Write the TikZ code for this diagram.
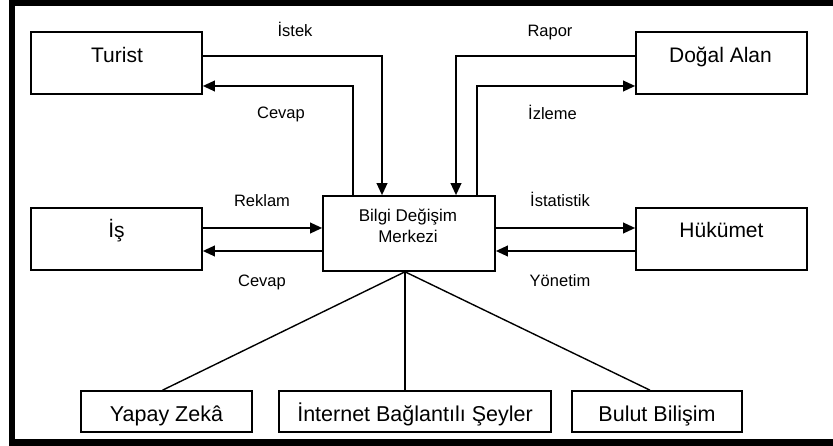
\documentclass[tikz,border=0pt]{standalone}
\usepackage{fontspec}
\setmainfont{Liberation Sans}
\usetikzlibrary{arrows.meta,calc}

\tikzset{
  box/.style={draw=black, line width=1.6pt, minimum width=171pt, minimum height=62pt, inner sep=0pt, fill=white},
  lowbox/.style={draw=black, line width=1.6pt, minimum height=41pt, inner sep=0pt, fill=white},
  boxtext/.style={anchor=base, inner sep=0pt, font=\fontsize{21}{25}\selectfont},
  lowtext/.style={anchor=base, inner sep=0pt, font=\fontsize{21.5}{25}\selectfont},
  hubtext/.style={anchor=base, inner sep=0pt, font=\fontsize{17}{20}\selectfont},
  flowlabel/.style={anchor=base, inner sep=0pt, font=\fontsize{16.5}{20}\selectfont},
  arr/.style={line width=2pt, -{Triangle[length=12pt,width=10.5pt]}},
  branch/.style={line width=1.4pt},
}

\begin{document}
\begin{tikzpicture}[x=1pt, y=-1pt]
  \useasboundingbox (0,0) rectangle (833,446);

  % outer frame (open on the right)
  \fill[black] (9,0) rectangle (833,6);
  \fill[black] (9,0) rectangle (15,446);
  \fill[black] (9,439) rectangle (833,446);

  % boxes
  \node[box] (turist) at (116.5,63) {};
  \node[box] (dogal) at (721.5,63) {};
  \node[box] (is) at (116.5,239) {};
  \node[box] (hukumet) at (721.5,239) {};
  \node[box, minimum width=172pt, minimum height=75pt] (merkez) at (409,233.5) {};
  \node[lowbox, minimum width=171pt] (yz) at (166.5,411.5) {};
  \node[lowbox, minimum width=272pt] (ibs) at (415,411.5) {};
  \node[lowbox, minimum width=170pt] (bb) at (657,411.5) {};

  % box texts
  \node[boxtext] (tTurist) at ($(turist.north)+(0.5,31)$) {Turist};
  \node[boxtext] (tDogal) at ($(dogal.north)+(-1,31)$) {Doğal Alan};
  \node[boxtext] (tIs) at ($(is.north)+(0,30)$) {İş};
  \node[boxtext] (tHukumet) at ($(hukumet.north)+(0,30)$) {Hükümet};
  \node[hubtext] (tMerkez1) at ($(merkez.north)+(-1,26)$) {Bilgi Değişim};
  \node[hubtext] (tMerkez2) at ($(merkez.north)+(-1,47)$) {Merkezi};
  \node[lowtext] (tYz) at ($(yz.north)+(0,31)$) {Yapay Zekâ};
  \node[lowtext] (tIbs) at ($(ibs.north)+(0,31)$) {İnternet Bağlantılı Şeyler};
  \node[lowtext] (tBb) at ($(bb.north)+(0,31)$) {Bulut Bilişim};

  % columns of the vertical connectors
  \coordinate (colCevap) at (353,0);
  \coordinate (colIstek) at (382,0);
  \coordinate (colRapor) at (456,0);
  \coordinate (colIzleme) at (477,0);

  % Turist <-> centre
  \draw[arr] ($(turist.east)+(0,-7)$) -| (merkez.north -| colIstek);
  \draw[arr] (merkez.north -| colCevap) |- ($(turist.east)+(0,23)$);

  % Doğal Alan <-> centre
  \draw[arr] ($(dogal.west)+(0,-7)$) -| (merkez.north -| colRapor);
  \draw[arr] (merkez.north -| colIzleme) |- ($(dogal.west)+(0,23)$);

  % İş <-> centre
  \coordinate (rowReklam) at ($(is.east)+(0,-11)$);
  \coordinate (rowCevap) at ($(is.east)+(0,12)$);
  \draw[arr] (rowReklam) -- (rowReklam -| merkez.west);
  \draw[arr] (rowCevap -| merkez.west) -- (rowCevap);

  % Hükümet <-> centre
  \coordinate (rowIstat) at ($(hukumet.west)+(0,-11)$);
  \coordinate (rowYonetim) at ($(hukumet.west)+(0,12)$);
  \draw[arr] (rowIstat -| merkez.east) -- (rowIstat);
  \draw[arr] (rowYonetim) -- (rowYonetim -| merkez.east);

  % branches to the technologies
  \coordinate (fan) at ($(merkez.south)+(-4,0)$);
  \draw[branch] (fan) -- ($(yz.north)+(-4,0)$);
  \draw[branch] (fan) -- (fan |- ibs.north);
  \draw[branch] (fan) -- ($(bb.north)+(-7,0)$);

  % connector labels
  \node[flowlabel] (lIstek) at (295,37) {İstek};
  \node[flowlabel] (lCevap1) at (281,119) {Cevap};
  \node[flowlabel] (lRapor) at (550,37) {Rapor};
  \node[flowlabel] (lIzleme) at (552.5,120) {İzleme};
  \node[flowlabel] (lReklam) at (262,207) {Reklam};
  \node[flowlabel] (lCevap2) at (262,287) {Cevap};
  \node[flowlabel] (lIstat) at (560,207) {İstatistik};
  \node[flowlabel] (lYonetim) at (560,287) {Yönetim};
\end{tikzpicture}
\end{document}
